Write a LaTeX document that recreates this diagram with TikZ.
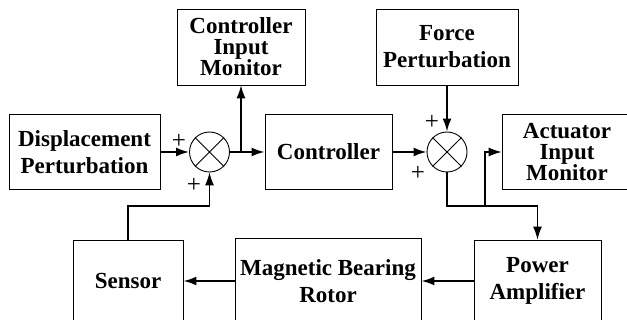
\documentclass[tikz,border=0pt]{standalone}
\usepackage{fontspec}
\setmainfont{Liberation Serif}
\usetikzlibrary{arrows.meta}
\begin{document}
\begin{tikzpicture}[x=1pt,y=-1pt,
  blk/.style={draw, line width=0.9pt, inner sep=0pt, align=center, font=\bfseries\fontsize{23}{27}\selectfont},
  blkc/.style={blk, font=\bfseries\fontsize{23}{21}\selectfont},
  sumnode/.style={draw, circle, minimum size=40pt, inner sep=0pt, line width=0.9pt},
  arr/.style={-{Latex[length=13pt,width=9pt]}, line width=1.8pt},
  arrt/.style={-{Latex[length=13pt,width=9pt]}, line width=1.1pt},
  pl/.style={font=\fontsize{25}{25}\selectfont, inner sep=0pt}]
\useasboundingbox (0,0) rectangle (627,320);
\clip (0,0) rectangle (627,320);
\node[blk, minimum width=151pt, minimum height=75pt] (disp) at (84.5,152) {Displacement\\Perturbation};
\node[blkc, minimum width=128pt, minimum height=76pt] (cim) at (241,47) {Controller\\Input\\Monitor};
\node[blk, minimum width=127pt, minimum height=75pt] (ctrl) at (328.5,152) {Controller};
\node[blk, minimum width=142pt, minimum height=76pt] (force) at (447,47) {Force\\Perturbation};
\node[blkc, minimum width=130pt, minimum height=75pt] (aim) at (567,152) {Actuator\\Input\\Monitor};
\node[blk, minimum width=110pt, minimum height=82pt] (sensor) at (128,281) {Sensor};
\node[blk, minimum width=186pt, minimum height=86pt] (mbr) at (328,281) {Magnetic Bearing\\Rotor};
\node[blk, minimum width=127pt, minimum height=82pt] (pa) at (537.5,281) {Power\\Amplifier};
\node[sumnode] (s1) at (209.5,152) {};
\node[sumnode] (s2) at (447,152) {};
\draw[line width=0.9pt] (s1.north west) -- (s1.south east) (s1.north east) -- (s1.south west);
\draw[line width=0.9pt] (s2.north west) -- (s2.south east) (s2.north east) -- (s2.south west);
\coordinate (fb1) at (128,206);
\coordinate (fb2) at (537.5,206);
\coordinate (br) at (485,206);
\draw[arr] (disp.east) -- (s1.west);
\draw[arr] (s1.east) -- (ctrl.west);
\draw[arrt] (cim.south |- s1.east) -- (cim.south);
\draw[arr] (ctrl.east) -- (s2.west);
\draw[arr] (force.south) -- (s2.north);
\draw[arrt] (s2.south) |- (fb2) -- (pa.north);
\draw[arrt] (br) |- (aim.west);
\draw[arr] (pa.west) -- (mbr.east);
\draw[arr] (mbr.west) -- (sensor.east);
\draw[arrt] (sensor.north) -- (fb1) -| (s1.south);
\node[pl] (p1) at (179,141) {+};
\node[pl] (p2) at (194,185) {+};
\node[pl] (p3) at (432,122) {+};
\node[pl] (p4) at (418,173) {+};
\end{tikzpicture}
\end{document}
